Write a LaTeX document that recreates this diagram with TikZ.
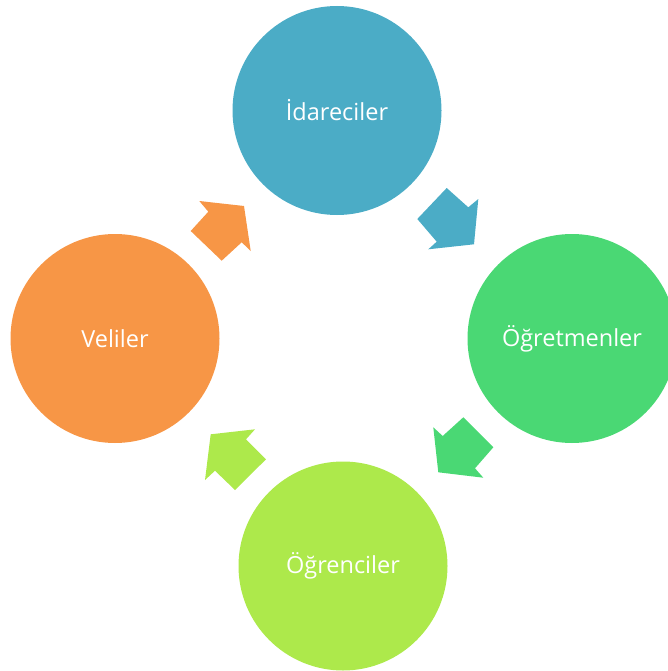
\documentclass[tikz,border=0pt]{standalone}
\usepackage{fontspec}
\setmainfont{Open Sans}
\definecolor{cblue}{HTML}{4BACC6}
\definecolor{cgreen}{HTML}{4AD874}
\definecolor{clime}{HTML}{ADE94B}
\definecolor{corange}{HTML}{F79646}
\begin{document}
\begin{tikzpicture}[x=1pt,y=-1pt,
  stage/.style={circle,minimum size=209pt,inner sep=0pt,text=white,font=\fontsize{23.5}{28}\selectfont},
  blockarrow/.style={draw=none}]
\useasboundingbox (0,0) rectangle (668,671);
\clip (0,0) rectangle (668,671);
\node[stage,fill=cblue] (ida) at (337,110.5) {İdareciler};
\node[stage,fill=cgreen] (ogr) at (572,338.5) {Öğretmenler};
\node[stage,fill=clime] (ogc) at (343,566) {Öğrenciler};
\node[stage,fill=corange] (vel) at (115,338.5) {Veliler};
% block arrows
\fill[cblue] (446.7,188) -- (468.3,207.3) -- (478.3,199) -- (474,244.3) -- (428.3,249.3) -- (436.7,241.7) -- (417.3,219) -- cycle;
\fill[cgreen] (463.3,417.3) -- (493.3,447.3) -- (475,468.3) -- (483.3,477.7) -- (438.3,472.3) -- (433.3,427.3) -- (442.7,436) -- cycle;
\fill[clime] (210.7,434.3) -- (255,429.3) -- (246,439.3) -- (266,459.3) -- (235,490) -- (215,470.7) -- (205,480) -- cycle;
\fill[corange] (199.3,201) -- (244,206) -- (250.7,251) -- (241.7,242.3) -- (221.7,260.7) -- (190.7,231) -- (208.3,211.7) -- cycle;
\end{tikzpicture}
\end{document}
